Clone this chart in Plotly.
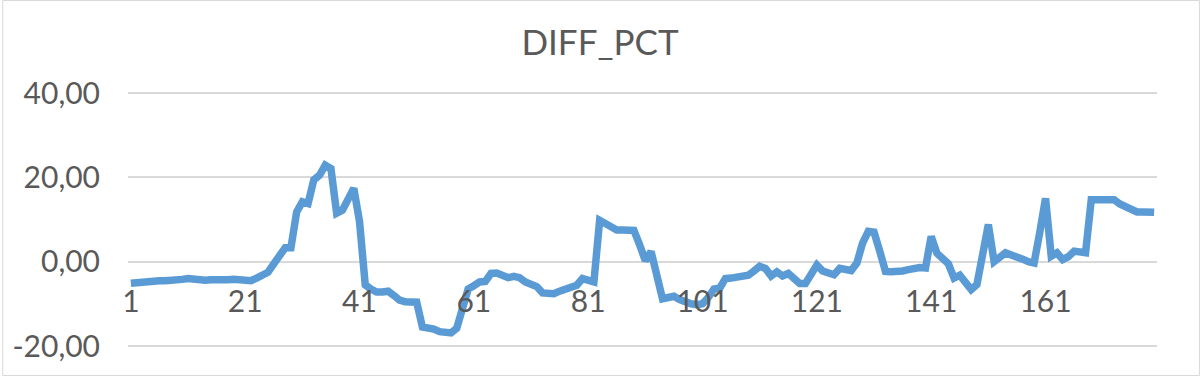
import plotly.graph_objects as go

categories = list(range(1, 181))
diff_pct = [
    -5.1, -4.9, -4.7, -4.6, -4.6, -4.5, -4.5, -4.4, -4.7, -4.2,
    -4.0, -4.2, -4.5, -4.4, -4.3, -4.4, -4.4, -4.3, -4.2, -4.3,
    -4.4, -4.5, -3.9, -3.4, -2.5, -0.5, 1.8, 3.3, 3.3, 11.8,
    14.2, 13.8, 19.4, 20.5, 22.9, 22.1, 11.5, 12.2, 14.8, 17.4,
    9.5, -5.5, -6.5, -7.2, -7.2, -7.0, -8.0, -9.1, -9.5, -9.5,
    -9.6, -15.5, -15.6, -16.0, -16.6, -16.9, -16.9, -15.8, -11.5, -6.5,
    -5.7, -4.8, -4.7, -2.8, -2.7, -3.2, -3.8, -3.5, -3.8, -4.8,
    -5.6, -5.9, -7.4, -7.7, -7.6, -7.0, -6.5, -6.0, -5.6, -4.0,
    -4.3, -4.8, 9.8, 9.0, 7.8, 7.5, 7.5, 7.5, 7.4, 4.0,
    0.2, 2.4, -3.5, -8.8, -8.5, -8.2, -9.0, -9.6, -10.0, -10.2,
    -10.0, -8.5, -6.5, -6.3, -4.0, -3.9, -3.8, -3.6, -3.2, -2.2,
    -1.1, -1.6, -3.4, -2.4, -3.4, -2.8, -3.8, -5.2, -5.2, -3.0,
    -0.8, -2.2, -2.7, -3.1, -1.6, -1.8, -2.1, -0.3, 4.4, 7.2,
    7.0, 2.5, -2.3, -2.4, -2.4, -2.2, -1.9, -1.5, -1.4, -1.5,
    6.0, 2.0, 0.8, -0.5, -3.9, -3.2, -4.9, -6.6, -5.4, 1.7,
    8.8, 0.0, 1.2, 2.1, 1.6, 1.3, 0.6, 0.0, -0.3, 7.0,
    15.0, 1.3, 2.1, 0.5, 1.2, 2.5, 2.2, 2.1, 14.7, 14.8,
    14.8, 14.8, 14.7, 13.7, 13.1, 12.8, 11.8, 11.8, 11.8, 11.7,
]
x_tick_vals = [1, 21, 41, 61, 81, 101, 121, 141, 161]
y_tick_vals = [-20, 0, 20, 40]
y_tick_text = ["-20,00", "0,00", "20,00", "40,00"]

FONT = "Lato"
TXT = "#595959"
GRID = "#d9d9d9"

fig = go.Figure()
fig.add_trace(go.Scatter(
    x=categories, y=diff_pct, mode="lines",
    line=dict(color="#5b9bd5", width=7.5),
    name="DIFF_PCT", showlegend=False,
))

# gridlines: 40 at y=93px, -20 at y=346px; plot area padded 2px each side
W, H = 1200, 376
L, R = 126, 43
T, B = 91, 28
pw, ph = W - L - R, H - T - B
ymin, ymax = -20, 40
pad = 2 * (ymax - ymin) / (ph - 4)
y_lo, y_hi = ymin - pad, ymax + pad

fig.update_layout(
    width=W, height=H,
    margin=dict(l=L, r=R, t=T, b=B),
    paper_bgcolor="white", plot_bgcolor="white",
    title=dict(text="DIFF_PCT", x=0.5, xref="container", xanchor="center",
               y=1 - 43 / H, yref="container", yanchor="middle",
               font=dict(family=FONT, size=35, color=TXT)),
    font=dict(family=FONT, color=TXT),
    xaxis=dict(
        range=[0.5, 180.5], tickvals=x_tick_vals,
        ticktext=[str(v) for v in x_tick_vals],
        showgrid=False, zeroline=False, showline=False,
        anchor="free", position=(0 - y_lo) / (y_hi - y_lo),
        ticks="", ticklabelstandoff=19,
        tickfont=dict(family=FONT, size=30, color=TXT),
    ),
    yaxis=dict(
        range=[y_lo, y_hi], tickvals=y_tick_vals, ticktext=y_tick_text,
        showgrid=True, gridcolor=GRID, gridwidth=2,
        zeroline=False, showline=False, ticks="",
        ticklabelstandoff=27,
        tickfont=dict(family=FONT, size=30, color=TXT),
    ),
    shapes=[dict(
        type="rect", xref="paper", yref="paper",
        x0=(0.5 - L) / pw, x1=(W - 0.5 - L) / pw,
        y0=(T + ph - (H - 0.5)) / ph, y1=(T + ph - 0.5) / ph,
        line=dict(color=GRID, width=1), fillcolor="rgba(0,0,0,0)", layer="below",
    )],
)

fig.write_html("out.html", config={"displayModeBar": False},
               post_script="document.body.style.margin='0';")
